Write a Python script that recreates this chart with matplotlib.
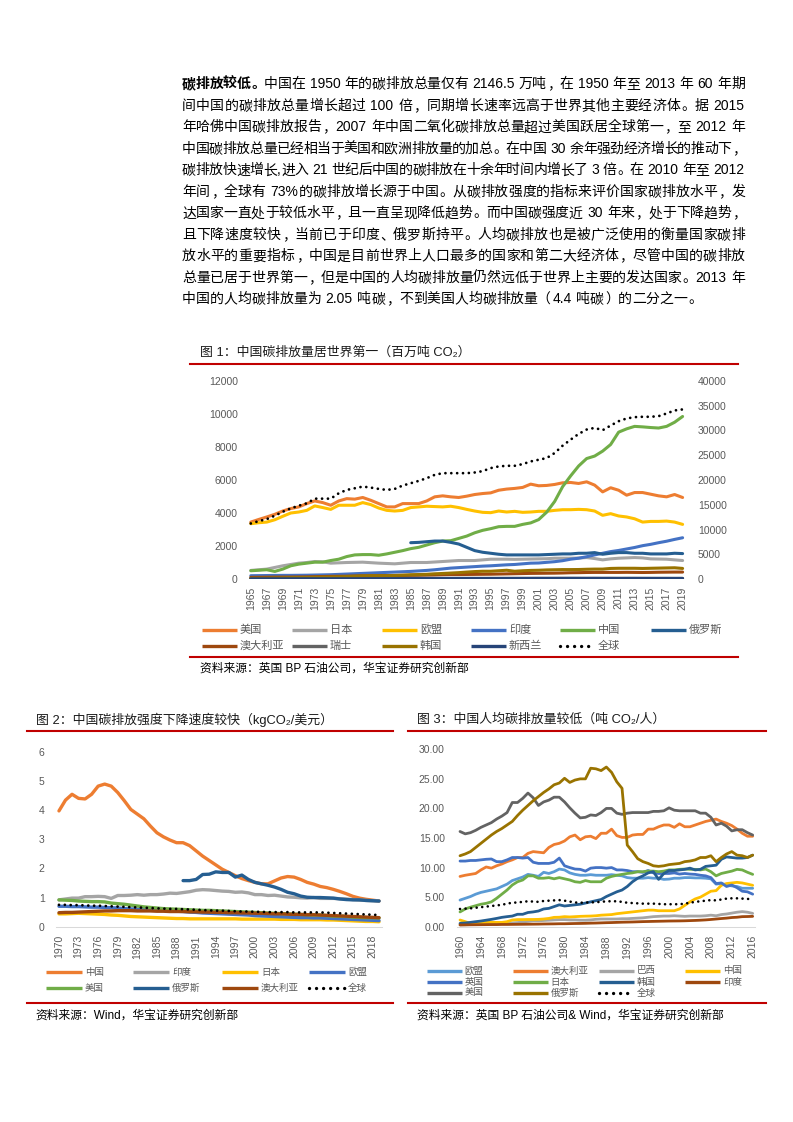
import re
import numpy as np
import matplotlib
matplotlib.use("Agg")
import matplotlib.pyplot as plt
from matplotlib.lines import Line2D

plt.rcParams['font.family'] = ['Liberation Sans', 'Noto Sans CJK SC', 'DejaVu Sans']

# ---------------- data ----------------
para = [
    "碳排放较低。中国在 1950 年的碳排放总量仅有 2146.5 万吨，在 1950 年至 2013 年 60 年期",
    "间中国的碳排放总量增长超过 100 倍，同期增长速率远高于世界其他主要经济体。据 2015",
    "年哈佛中国碳排放报告，2007 年中国二氧化碳排放总量超过美国跃居全球第一，至 2012 年",
    "中国碳排放总量已经相当于美国和欧洲排放量的加总。在中国 30 余年强劲经济增长的推动下，",
    "碳排放快速增长,进入 21 世纪后中国的碳排放在十余年时间内增长了 3 倍。在 2010 年至 2012",
    "年间，全球有 73%的碳排放增长源于中国。从碳排放强度的指标来评价国家碳排放水平，发",
    "达国家一直处于较低水平，且一直呈现降低趋势。而中国碳强度近 30 年来，处于下降趋势，",
    "且下降速度较快，当前已于印度、俄罗斯持平。人均碳排放也是被广泛使用的衡量国家碳排",
    "放水平的重要指标，中国是目前世界上人口最多的国家和第二大经济体，尽管中国的碳排放",
    "总量已居于世界第一，但是中国的人均碳排放量仍然远低于世界上主要的发达国家。2013 年",
    "中国的人均碳排放量为 2.05 吨碳，不到美国人均碳排放量（4.4 吨碳）的二分之一。",
]

# chart 1: 1965-2019, million t CO2
years1 = np.arange(1965, 2020)
us1 = [3450, 3610, 3760, 3920, 4120, 4270, 4370, 4570, 4730, 4630,
       4470, 4730, 4870, 4840, 4940, 4770, 4570, 4370, 4370, 4570,
       4570, 4570, 4730, 4980, 5040, 4980, 4940, 5020, 5120, 5180,
       5220, 5380, 5450, 5490, 5550, 5750, 5650, 5670, 5730, 5830,
       5850, 5790, 5890, 5690, 5280, 5530, 5380, 5080, 5240, 5240,
       5140, 5040, 4980, 5120, 4940]
japan1 = [520, 560, 600, 700, 800, 880, 960, 1000, 1060, 1040,
          960, 980, 1000, 1010, 1020, 990, 960, 940, 920, 960,
          1000, 1000, 1000, 1030, 1060, 1090, 1120, 1120, 1120, 1160,
          1200, 1200, 1200, 1190, 1200, 1210, 1220, 1230, 1260, 1260,
          1260, 1270, 1300, 1240, 1160, 1220, 1260, 1280, 1300, 1280,
          1220, 1210, 1200, 1160, 1120]
eu1 = [3350, 3410, 3450, 3590, 3800, 4000, 4060, 4160, 4430, 4330,
       4220, 4470, 4470, 4470, 4630, 4510, 4300, 4160, 4120, 4160,
       4330, 4370, 4410, 4390, 4370, 4410, 4330, 4220, 4120, 4040,
       4020, 4120, 4060, 4100, 4040, 4060, 4100, 4100, 4160, 4200,
       4200, 4220, 4200, 4120, 3860, 3960, 3820, 3760, 3650, 3450,
       3490, 3490, 3510, 3450, 3310]
india1 = [200, 205, 210, 215, 220, 220, 225, 230, 240, 250,
          260, 280, 300, 320, 340, 360, 380, 400, 420, 440,
          460, 490, 520, 560, 610, 660, 690, 720, 750, 780,
          800, 830, 860, 880, 920, 960, 970, 1010, 1050, 1110,
          1200, 1260, 1350, 1460, 1560, 1660, 1730, 1820, 1910, 2020,
          2100, 2200, 2290, 2400, 2500]
china1 = [500, 530, 560, 460, 600, 800, 900, 960, 1020, 1020,
          1120, 1200, 1360, 1460, 1480, 1480, 1440, 1520, 1620, 1720,
          1840, 1920, 2060, 2200, 2300, 2320, 2460, 2600, 2800, 2950,
          3050, 3170, 3190, 3190, 3310, 3400, 3600, 4050, 4700, 5600,
          6250, 6850, 7300, 7450, 7750, 8150, 8900, 9100, 9250, 9220,
          9180, 9150, 9250, 9500, 9850]
russia1 = [np.nan] * 20 + [
          2200, 2220, 2260, 2300, 2300, 2220, 2120, 1920, 1720, 1620,
          1560, 1500, 1460, 1460, 1460, 1460, 1460, 1480, 1500, 1520,
          1520, 1560, 1560, 1600, 1500, 1560, 1600, 1600, 1560, 1560,
          1520, 1520, 1520, 1560, 1540]
australia1 = [100, 105, 110, 115, 118, 120, 125, 130, 140, 150,
              160, 165, 170, 180, 190, 200, 205, 210, 210, 215,
              220, 225, 235, 245, 260, 270, 270, 275, 280, 285,
              290, 300, 310, 320, 330, 340, 345, 350, 355, 365,
              380, 385, 395, 400, 400, 400, 400, 405, 400, 395,
              400, 410, 415, 420, 420]
swiss1 = [30, 32, 34, 36, 38, 42, 44, 46, 45, 42,
          40, 42, 43, 44, 41, 42, 40, 40, 41, 42,
          43, 42, 42, 41, 41, 42, 43, 43, 42, 41,
          42, 42, 42, 42, 43, 43, 44, 43, 43, 44,
          44, 43, 42, 43, 43, 44, 41, 42, 43, 40,
          39, 39, 38, 37, 37]
korea1 = [40, 45, 50, 60, 65, 80, 85, 90, 100, 110,
          120, 130, 150, 170, 190, 200, 200, 205, 215, 235,
          260, 270, 285, 315, 335, 360, 385, 420, 450, 470,
          470, 500, 530, 470, 500, 520, 530, 550, 560, 570,
          570, 575, 590, 600, 600, 640, 650, 650, 650, 640,
          650, 660, 670, 680, 640]
nz1 = [12, 13, 13, 14, 14, 15, 16, 17, 18, 18,
       18, 19, 18, 18, 19, 20, 19, 20, 21, 22,
       23, 24, 24, 24, 25, 25, 26, 27, 27, 27,
       28, 29, 31, 32, 32, 33, 35, 35, 36, 37,
       38, 37, 36, 37, 34, 34, 34, 35, 34, 35,
       35, 34, 35, 34, 35]
world1 = [11220, 11690, 12100, 12780, 13590, 14270, 14810, 15290, 16230, 16230,
          16230, 17320, 18000, 18330, 18670, 18470, 18200, 18000, 18200, 18880,
          19350, 19820, 20370, 21040, 21380, 21380, 21380, 21380, 21520, 21790,
          22400, 22740, 22870, 22870, 23210, 23750, 24090, 24430, 25450, 26940,
          28160, 29310, 30190, 30530, 30060, 31000, 31880, 32430, 32700, 32770,
          32770, 32900, 33440, 34050, 34260]

# chart 2: 1970-2019, kgCO2 / USD
years2 = np.arange(1970, 2020)
china2 = [3.97, 4.34, 4.54, 4.40, 4.38, 4.54, 4.82, 4.89, 4.82, 4.60,
          4.32, 4.02, 3.86, 3.70, 3.45, 3.22, 3.08, 2.97, 2.88, 2.88,
          2.78, 2.60, 2.42, 2.27, 2.12, 1.97, 1.86, 1.75, 1.65, 1.58,
          1.52, 1.47, 1.47, 1.57, 1.67, 1.72, 1.70, 1.62, 1.52, 1.46,
          1.38, 1.34, 1.28, 1.21, 1.13, 1.04, 0.98, 0.94, 0.91, 0.88]
india2 = [0.92, 0.95, 0.98, 0.98, 1.03, 1.03, 1.04, 1.03, 0.97, 1.07,
          1.07, 1.08, 1.10, 1.08, 1.10, 1.10, 1.12, 1.15, 1.14, 1.17,
          1.20, 1.25, 1.27, 1.26, 1.24, 1.22, 1.21, 1.18, 1.19, 1.16,
          1.10, 1.10, 1.07, 1.08, 1.05, 1.02, 1.01, 0.99, 0.98, 1.00,
          0.97, 0.97, 0.97, 0.96, 0.95, 0.93, 0.91, 0.90, 0.89, 0.88]
japan2 = [0.44, 0.44, 0.45, 0.46, 0.45, 0.44, 0.43, 0.42, 0.40, 0.39,
          0.37, 0.35, 0.34, 0.33, 0.32, 0.31, 0.30, 0.29, 0.28, 0.28,
          0.27, 0.27, 0.27, 0.27, 0.27, 0.27, 0.27, 0.27, 0.26, 0.26,
          0.26, 0.26, 0.26, 0.26, 0.25, 0.25, 0.25, 0.24, 0.24, 0.24,
          0.24, 0.23, 0.23, 0.22, 0.21, 0.20, 0.19, 0.18, 0.18, 0.17]
eu2 = [0.70, 0.70, 0.69, 0.69, 0.68, 0.67, 0.67, 0.66, 0.65, 0.64,
       0.62, 0.61, 0.60, 0.59, 0.58, 0.57, 0.56, 0.55, 0.53, 0.52,
       0.50, 0.49, 0.47, 0.46, 0.45, 0.44, 0.43, 0.42, 0.41, 0.40,
       0.38, 0.37, 0.36, 0.35, 0.34, 0.33, 0.32, 0.31, 0.31, 0.30,
       0.30, 0.29, 0.28, 0.27, 0.26, 0.25, 0.24, 0.23, 0.22, 0.21]
usa2 = [0.92, 0.91, 0.90, 0.88, 0.87, 0.86, 0.86, 0.85, 0.81, 0.79,
        0.77, 0.74, 0.71, 0.68, 0.66, 0.64, 0.62, 0.61, 0.60, 0.59,
        0.58, 0.57, 0.56, 0.56, 0.55, 0.54, 0.53, 0.52, 0.51, 0.50,
        0.49, 0.48, 0.47, 0.46, 0.45, 0.44, 0.43, 0.42, 0.41, 0.40,
        0.40, 0.38, 0.36, 0.36, 0.35, 0.33, 0.32, 0.31, 0.31, 0.30]
russia2 = [np.nan] * 19 + [
           1.58, 1.58, 1.62, 1.79, 1.80, 1.88, 1.86, 1.86, 1.70, 1.77,
           1.62, 1.52, 1.47, 1.42, 1.36, 1.28, 1.18, 1.13, 1.05, 1.01,
           1.00, 1.00, 0.99, 0.98, 0.95, 0.93, 0.92, 0.92, 0.90, 0.89,
           0.88]
australia2 = [0.48, 0.49, 0.49, 0.50, 0.51, 0.52, 0.53, 0.54, 0.54, 0.55,
              0.55, 0.55, 0.54, 0.54, 0.54, 0.53, 0.53, 0.52, 0.52, 0.52,
              0.51, 0.51, 0.50, 0.50, 0.49, 0.49, 0.48, 0.48, 0.47, 0.47,
              0.46, 0.46, 0.45, 0.44, 0.44, 0.43, 0.42, 0.42, 0.41, 0.41,
              0.40, 0.39, 0.38, 0.37, 0.36, 0.35, 0.34, 0.33, 0.32, 0.31]
world2 = [0.75, 0.75, 0.74, 0.74, 0.73, 0.72, 0.72, 0.71, 0.70, 0.69,
          0.68, 0.67, 0.66, 0.65, 0.64, 0.63, 0.62, 0.61, 0.61, 0.60,
          0.59, 0.58, 0.57, 0.56, 0.55, 0.55, 0.54, 0.53, 0.52, 0.52,
          0.51, 0.51, 0.50, 0.50, 0.50, 0.50, 0.49, 0.49, 0.49, 0.49,
          0.49, 0.48, 0.47, 0.46, 0.45, 0.44, 0.43, 0.42, 0.41, 0.40]

# chart 3: 1960-2016, t CO2 per person
years3 = np.arange(1960, 2017)
eu3 = [4.5, 4.8, 5.1, 5.5, 5.8, 6.0, 6.2, 6.4, 6.8, 7.2,
       7.8, 8.1, 8.4, 8.85, 8.7, 8.5, 9.2, 9.0, 9.3, 9.75,
       9.6, 9.1, 8.85, 8.7, 8.7, 8.8, 8.7, 8.7, 8.7, 8.8,
       8.7, 8.6, 8.3, 8.2, 8.2, 8.2, 8.3, 8.2, 8.2, 8.0,
       8.05, 8.2, 8.2, 8.3, 8.3, 8.25, 8.25, 8.2, 8.1, 7.2,
       7.3, 7.05, 6.9, 6.8, 6.5, 6.5, 6.5]
australia3 = [8.5, 8.7, 8.85, 9.0, 9.6, 10.1, 9.9, 10.3, 10.6, 11.0,
              11.3, 11.7, 11.7, 12.4, 12.7, 12.6, 12.5, 13.4, 13.9, 14.1,
              14.5, 15.2, 15.5, 14.7, 15.2, 15.3, 14.9, 15.8, 15.8, 16.5,
              15.4, 15.1, 15.1, 15.5, 15.6, 15.6, 16.5, 16.5, 16.9, 17.2,
              17.2, 16.8, 17.4, 16.9, 16.9, 17.2, 17.5, 17.8, 18.0, 18.2,
              17.8, 17.5, 17.1, 16.5, 15.8, 15.3, 15.3]
brazil3 = [0.3, 0.35, 0.4, 0.4, 0.45, 0.45, 0.5, 0.5, 0.55, 0.6,
           0.65, 0.7, 0.8, 0.9, 1.0, 1.0, 1.05, 1.1, 1.15, 1.2,
           1.2, 1.15, 1.15, 1.1, 1.1, 1.15, 1.25, 1.3, 1.3, 1.3,
           1.3, 1.35, 1.35, 1.4, 1.45, 1.5, 1.6, 1.7, 1.75, 1.8,
           1.8, 1.85, 1.8, 1.75, 1.8, 1.8, 1.8, 1.85, 1.95, 1.85,
           2.05, 2.15, 2.3, 2.45, 2.55, 2.45, 2.25]
china3 = [1.13, 0.85, 0.56, 0.56, 0.6, 0.73, 0.75, 0.73, 0.73, 0.85,
          1.13, 1.2, 1.2, 1.22, 1.22, 1.24, 1.3, 1.4, 1.58, 1.6,
          1.7, 1.65, 1.7, 1.75, 1.78, 1.8, 1.85, 1.95, 2.0, 2.05,
          2.2, 2.3, 2.4, 2.5, 2.6, 2.7, 2.8, 2.8, 2.7, 2.7,
          2.7, 2.7, 3.0, 3.6, 4.2, 4.7, 5.0, 5.5, 6.0, 6.1,
          7.0, 7.3, 7.4, 7.5, 7.4, 7.2, 7.0]
uk3 = [11.1, 11.1, 11.2, 11.2, 11.3, 11.4, 11.45, 11.0, 11.0, 11.3,
       11.7, 11.7, 11.6, 11.7, 10.9, 10.7, 10.7, 10.7, 10.9, 11.6,
       10.3, 10.0, 9.75, 9.7, 9.4, 9.9, 10.0, 10.0, 9.9, 10.0,
       9.6, 9.6, 9.5, 9.3, 9.3, 9.2, 9.5, 9.1, 9.0, 9.0,
       9.0, 9.1, 8.9, 9.0, 8.9, 8.85, 8.7, 8.6, 8.3, 7.3,
       7.4, 6.8, 7.05, 6.6, 6.0, 5.9, 5.5]
japan3 = [2.5, 3.0, 3.3, 3.55, 3.8, 3.95, 4.2, 4.8, 5.5, 6.2,
          7.05, 7.6, 7.9, 8.6, 8.6, 8.2, 8.2, 8.3, 8.1, 8.3,
          8.1, 7.9, 7.6, 7.5, 7.8, 7.6, 7.6, 7.6, 8.2, 8.5,
          8.7, 8.85, 9.0, 9.1, 9.3, 9.3, 9.4, 9.4, 9.3, 9.4,
          9.6, 9.6, 9.7, 9.75, 9.7, 9.7, 9.6, 9.75, 9.3, 8.6,
          9.0, 9.2, 9.4, 9.7, 9.6, 9.2, 8.85]
korea3 = [0.56, 0.63, 0.73, 0.85, 0.96, 1.1, 1.24, 1.4, 1.58, 1.7,
          1.8, 2.1, 2.1, 2.4, 2.5, 2.65, 3.0, 3.1, 3.4, 3.7,
          3.5, 3.6, 3.7, 3.8, 4.0, 4.2, 4.4, 4.6, 5.1, 5.5,
          5.9, 6.2, 6.8, 7.6, 8.2, 8.6, 9.1, 9.3, 8.0, 9.0,
          9.5, 9.5, 9.6, 9.7, 9.9, 9.6, 9.7, 10.2, 10.3, 10.4,
          11.4, 11.8, 11.7, 11.6, 11.6, 11.7, 12.1]
india3 = [0.3, 0.3, 0.32, 0.33, 0.34, 0.35, 0.36, 0.36, 0.38, 0.38,
          0.39, 0.4, 0.41, 0.42, 0.43, 0.44, 0.46, 0.47, 0.48, 0.5,
          0.5, 0.52, 0.54, 0.55, 0.57, 0.6, 0.62, 0.65, 0.68, 0.7,
          0.73, 0.76, 0.78, 0.8, 0.83, 0.86, 0.88, 0.9, 0.92, 0.94,
          0.96, 0.97, 0.98, 1.0, 1.03, 1.06, 1.1, 1.15, 1.22, 1.3,
          1.38, 1.45, 1.55, 1.6, 1.7, 1.72, 1.75]
usa3 = [16.1, 15.7, 15.9, 16.3, 16.8, 17.2, 17.6, 18.2, 18.7, 19.3,
        21.0, 21.0, 21.7, 22.6, 21.8, 20.5, 21.1, 21.4, 21.9, 21.9,
        21.1, 20.1, 19.2, 18.4, 18.5, 18.9, 18.8, 19.3, 20.0, 20.0,
        19.2, 19.0, 19.2, 19.3, 19.3, 19.3, 19.3, 19.5, 19.5, 19.6,
        20.1, 19.7, 19.6, 19.6, 19.6, 19.6, 19.2, 19.2, 18.5, 17.2,
        17.5, 17.0, 16.2, 16.4, 16.4, 15.9, 15.5]
russia3 = [12.0, 12.3, 12.7, 13.4, 14.1, 14.8, 15.5, 16.1, 16.6, 17.2,
           17.8, 18.8, 19.7, 20.5, 21.3, 22.0, 22.7, 23.3, 24.0, 24.3,
           25.1, 24.4, 24.8, 25.0, 25.0, 26.8, 26.7, 26.4, 27.0, 26.1,
           24.5, 23.4, 13.8, 12.7, 11.5, 11.0, 10.7, 10.3, 10.2, 10.3,
           10.5, 10.6, 10.7, 11.0, 11.1, 11.3, 11.7, 11.7, 12.0, 11.0,
           11.7, 12.3, 12.7, 12.1, 12.0, 11.7, 12.1]
world3 = [3.0, 3.05, 3.1, 3.2, 3.3, 3.4, 3.5, 3.6, 3.7, 3.9,
          4.05, 4.1, 4.2, 4.3, 4.25, 4.2, 4.35, 4.4, 4.45, 4.5,
          4.4, 4.25, 4.1, 4.05, 4.1, 4.1, 4.15, 4.2, 4.3, 4.3,
          4.3, 4.2, 4.05, 4.0, 3.95, 3.9, 3.9, 3.9, 3.85, 3.8,
          3.8, 3.8, 3.8, 3.9, 4.05, 4.2, 4.3, 4.4, 4.5, 4.45,
          4.6, 4.75, 4.8, 4.8, 4.75, 4.7, 4.65]

# ---------------- layout helpers ----------------
W, H = 793, 1122
fig = plt.figure(figsize=(W / 100, H / 100), dpi=100)
renderer = fig.canvas.get_renderer()

RED = '#C00000'
TICK = '#595959'
DOT = (0, (0.01, 2.1))


def fx(px):
    return px / W


def fy(py):
    return 1 - py / H


def make_axes(x0, x1, ytop, ybot):
    ax = fig.add_axes([fx(x0), fy(ybot), (x1 - x0) / W, (ybot - ytop) / H])
    for s in ax.spines.values():
        s.set_visible(False)
    ax.patch.set_alpha(0)
    ax.tick_params(length=0, labelsize=7.5, labelcolor=TICK)
    return ax


def hline(x0, x1, y, color=RED, lw=1.5):
    fig.add_artist(Line2D([fx(x0), fx(x1)], [fy(y), fy(y)], color=color,
                          lw=lw, transform=fig.transFigure))


def legend_item(x, y, color, label, length=35, lw=2.2, dotted=False, fs=8):
    fig.add_artist(Line2D([fx(x), fx(x + length)], [fy(y), fy(y)], color=color,
                          lw=lw, linestyle=DOT if dotted else '-',
                          dash_capstyle='round', solid_capstyle='butt',
                          transform=fig.transFigure))
    fig.text(fx(x + length + 3), fy(y), label, fontsize=fs, color=TICK,
             va='center', ha='left')


# ---------------- paragraph (justified) ----------------
FS = 10
em = FS * 100 / 72
for i, line in enumerate(para):
    toks = re.findall(r'[A-Za-z0-9.%]+| |.', line)
    base = fy(83 + i * 21.5 + 5.3)
    items = []
    for j, t in enumerate(toks):
        bold = (i == 0 and j < 6)
        if t == ' ':
            items.append((None, 0.28 * em, 'space'))
        elif re.match(r'[A-Za-z0-9.%,]', t):
            a = fig.text(0, base, t, fontsize=FS, va='baseline', ha='left')
            items.append((a, a.get_window_extent(renderer).width + 0.1 * em, 'ascii'))
        else:
            a = fig.text(0, base, t, fontsize=FS, va='baseline',
                         fontweight='bold' if bold else 'normal',
                         family=['Noto Sans CJK SC', 'DejaVu Sans'])
            items.append((a, em, t))
    natural = sum(w for _, w, _ in items)
    last = i == len(para) - 1
    gap = 0 if last else (745 - 182 - natural) / (len(items) - 1)
    x = 182
    for a, w, kind in items:
        if a is not None:
            if kind == 'ascii':
                a.set_x(fx(x + 0.05 * em))
            elif kind in '，。、：；':
                a.set_ha('left')
                a.set_x(fx(x + 0.08 * em))
            elif kind == '（':
                a.set_ha('right')
                a.set_x(fx(x + 0.92 * em))
            elif kind == '）':
                a.set_ha('left')
                a.set_x(fx(x + 0.08 * em))
            else:
                a.set_ha('center')
                a.set_x(fx(x + 0.5 * em))
        x += w + gap

# ---------------- chart 1 ----------------
fig.text(fx(200), fy(353), "图 1：中国碳排放量居世界第一（百万吨 CO₂）",
         fontsize=9.3, color='#1a1a1a', va='center', ha='left')
hline(190, 738, 364)

ax1 = make_axes(246.8, 686.6, 381, 579)
series1 = [(us1, '#ED7D31'), (japan1, '#A5A5A5'), (eu1, '#FFC000'),
           (india1, '#4472C4'), (china1, '#70AD47'), (russia1, '#255E91'),
           (australia1, '#9E480E'), (swiss1, '#636363'), (korea1, '#997300'),
           (nz1, '#264478')]
for vals, c in series1:
    ax1.plot(years1, vals, color=c, lw=2.2, solid_capstyle='round')
ax1.set_xlim(1964.5, 2019.5)
ax1.set_ylim(0, 12000)
ax1.set_yticks(range(0, 12001, 2000))
ax1.set_xticks(years1[::2])
ax1.set_xticklabels([str(y) for y in years1[::2]], rotation=90)
ax1.tick_params(axis='x', pad=5.5)
ax1.tick_params(axis='y', pad=6.5)

ax1b = ax1.twinx()
for s in ax1b.spines.values():
    s.set_visible(False)
ax1b.plot(years1, world1, color='black', lw=2.0, linestyle=DOT,
          dash_capstyle='round')
ax1b.set_ylim(0, 40000)
ax1b.set_yticks(range(0, 40001, 5000))
ax1b.tick_params(length=0, labelsize=7.5, labelcolor=TICK, pad=8)

leg1_x = [202, 292, 382, 471, 560, 651]
leg1 = [("美国", '#ED7D31'), ("日本", '#A5A5A5'), ("欧盟", '#FFC000'),
        ("印度", '#4472C4'), ("中国", '#70AD47'), ("俄罗斯", '#255E91'),
        ("澳大利亚", '#9E480E'), ("瑞士", '#636363'), ("韩国", '#997300'),
        ("新西兰", '#264478'), ("全球", 'black')]
for k, (lab, c) in enumerate(leg1):
    legend_item(leg1_x[k % 6], 629.5 if k < 6 else 646, c, lab, length=35,
                lw=2.4, dotted=(lab == "全球"), fs=8)
hline(190, 738, 657)
fig.text(fx(200), fy(668.5), "资料来源：英国 BP 石油公司，华宝证券研究创新部",
         fontsize=8.5, color='black', va='center', ha='left')

# ---------------- chart 2 ----------------
fig.text(fx(36), fy(720), "图 2：中国碳排放强度下降速度较快（kgCO₂/美元）",
         fontsize=9.3, color='#1a1a1a', va='center', ha='left')
hline(27, 393, 731)

ax2 = make_axes(55.7, 382.3, 751.7, 926.7)
ax2.spines['bottom'].set_visible(True)
ax2.spines['bottom'].set_color('#D9D9D9')
ax2.spines['bottom'].set_linewidth(0.75)
series2 = [(china2, '#ED7D31'), (india2, '#A5A5A5'), (japan2, '#FFC000'),
           (eu2, '#4472C4'), (usa2, '#70AD47'), (russia2, '#255E91'),
           (australia2, '#9E480E')]
for vals, c in series2:
    ax2.plot(years2, vals, color=c, lw=2.4, solid_capstyle='round')
ax2.plot(years2, world2, color='black', lw=2.0, linestyle=DOT,
         dash_capstyle='round')
ax2.set_xlim(1969.5, 2019.5)
ax2.set_ylim(0, 6)
ax2.set_yticks(range(0, 7))
ax2.set_xticks(years2[::3])
ax2.set_xticklabels([str(y) for y in years2[::3]], rotation=90)
ax2.tick_params(axis='x', pad=6)
ax2.tick_params(axis='y', pad=8)

leg2_x = [46, 133, 222, 309]
leg2 = [("中国", '#ED7D31'), ("印度", '#A5A5A5'), ("日本", '#FFC000'),
        ("欧盟", '#4472C4'), ("美国", '#70AD47'), ("俄罗斯", '#255E91'),
        ("澳大利亚", '#9E480E'), ("全球", 'black')]
for k, (lab, c) in enumerate(leg2):
    legend_item(leg2_x[k % 4], 972 if k < 4 else 988, c, lab, length=36,
                lw=2.4, dotted=(lab == "全球"), fs=6.8)
hline(27, 393, 1003)
fig.text(fx(35), fy(1016), "资料来源：Wind，华宝证券研究创新部",
         fontsize=8.5, color='black', va='center', ha='left')

# ---------------- chart 3 ----------------
fig.text(fx(417), fy(720), "图 3：中国人均碳排放量较低（吨 CO₂/人）",
         fontsize=9.3, color='#1a1a1a', va='center', ha='left')
hline(408, 766, 731)

ax3 = make_axes(457.4, 755.3, 749.3, 926.7)
ax3.spines['bottom'].set_visible(True)
ax3.spines['bottom'].set_color('#D9D9D9')
ax3.spines['bottom'].set_linewidth(0.75)
series3 = [(eu3, '#5B9BD5'), (australia3, '#ED7D31'), (brazil3, '#A5A5A5'),
           (china3, '#FFC000'), (uk3, '#4472C4'), (japan3, '#70AD47'),
           (korea3, '#255E91'), (india3, '#9E480E'), (usa3, '#636363'),
           (russia3, '#997300')]
for vals, c in series3:
    ax3.plot(years3, vals, color=c, lw=2.0, solid_capstyle='round')
ax3.plot(years3, world3, color='black', lw=1.9, linestyle=DOT,
         dash_capstyle='round')
ax3.set_xlim(1959.5, 2016.5)
ax3.set_ylim(0, 30)
ax3.set_yticks(range(0, 31, 5))
ax3.set_yticklabels([f"{v:.2f}" for v in range(0, 31, 5)])
ax3.set_xticks(years3[::4])
ax3.set_xticklabels([str(y) for y in years3[::4]], rotation=90)
ax3.tick_params(axis='x', pad=6)
ax3.tick_params(axis='y', pad=9)

leg3_x = [426.7, 512.7, 599, 685]
leg3_y = [971, 982, 993]
leg3 = [("欧盟", '#5B9BD5'), ("澳大利亚", '#ED7D31'), ("巴西", '#A5A5A5'),
        ("中国", '#FFC000'), ("英国", '#4472C4'), ("日本", '#70AD47'),
        ("韩国", '#255E91'), ("印度", '#9E480E'), ("美国", '#636363'),
        ("俄罗斯", '#997300'), ("全球", 'black')]
for k, (lab, c) in enumerate(leg3):
    legend_item(leg3_x[k % 4], leg3_y[k // 4], c, lab, length=35,
                lw=2.4, dotted=(lab == "全球"), fs=6.8)
hline(408, 766, 1003)
fig.text(fx(417), fy(1016), "资料来源：英国 BP 石油公司& Wind，华宝证券研究创新部",
         fontsize=8.5, color='black', va='center', ha='left')

fig.savefig("out.png", dpi=100)
